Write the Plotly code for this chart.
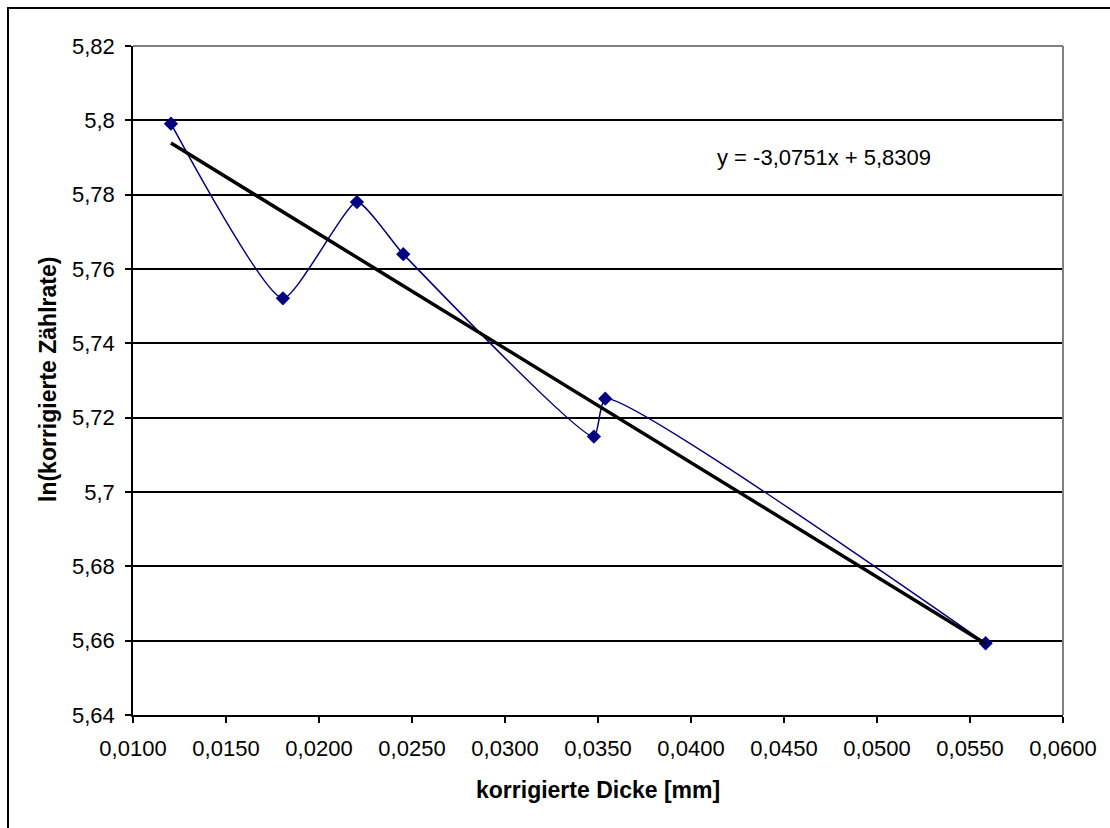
import plotly.graph_objects as go

# Data
dicke = [0.01204, 0.01806, 0.02204, 0.02453, 0.03478, 0.03539, 0.05584]
ln_rate = [5.7991, 5.7521, 5.7780, 5.7640, 5.7149, 5.7251, 5.6593]

# Linear trendline (Excel)
slope = -3.0751
intercept = 5.8309
trend_x = [min(dicke), max(dicke)]
trend_y = [slope * v + intercept for v in trend_x]

x_ticks = [0.010, 0.015, 0.020, 0.025, 0.030, 0.035, 0.040, 0.045, 0.050, 0.055, 0.060]
x_ticktext = ["0,0100", "0,0150", "0,0200", "0,0250", "0,0300", "0,0350",
              "0,0400", "0,0450", "0,0500", "0,0550", "0,0600"]
y_ticks = [5.64, 5.66, 5.68, 5.70, 5.72, 5.74, 5.76, 5.78, 5.80, 5.82]
y_ticktext = ["5,64", "5,66", "5,68", "5,7", "5,72", "5,74", "5,76", "5,78", "5,8", "5,82"]

FONT = "Liberation Sans, Arial, sans-serif"

fig = go.Figure()
fig.add_trace(go.Scatter(
    x=dicke, y=ln_rate, mode="lines+markers",
    line=dict(color="#000080", width=1.5, shape="spline", smoothing=0.5),
    marker=dict(symbol="diamond", size=11, color="#000080"),
    showlegend=False, hoverinfo="x+y"))
fig.add_trace(go.Scatter(
    x=trend_x, y=trend_y, mode="lines",
    line=dict(color="black", width=3.5),
    showlegend=False, hoverinfo="skip"))

W, H = 1110, 828
ml, mr, mt, mb = 133, 47, 46, 113
pw, ph = W - ml - mr, H - mt - mb

def px2paper_x(px):
    return (px - ml) / pw

def px2paper_y(py):
    return 1 - (py - mt) / ph

fig.update_layout(
    width=W, height=H,
    margin=dict(l=ml, r=mr, t=mt, b=mb),
    paper_bgcolor="white", plot_bgcolor="white",
    font=dict(family=FONT, size=22, color="black"),
    xaxis=dict(range=[0.010, 0.060], tickvals=x_ticks, ticktext=x_ticktext,
               showgrid=False, zeroline=False, showline=True, linecolor="black",
               linewidth=1.5, ticks="outside", ticklen=6, tickwidth=1.5,
               tickcolor="black", tickfont=dict(size=22), ticklabelstandoff=7),
    yaxis=dict(range=[5.64, 5.82], tickvals=y_ticks, ticktext=y_ticktext,
               showgrid=True, gridcolor="black", gridwidth=1.5, zeroline=False,
               showline=True, linecolor="black", linewidth=1.5,
               ticks="outside", ticklen=6, tickwidth=1.5, tickcolor="black",
               tickfont=dict(size=22), ticklabelstandoff=6),
    shapes=[
        # gray plot-area border top and right
        dict(type="line", xref="paper", yref="paper", x0=0, x1=1, y0=1, y1=1,
             line=dict(color="#808080", width=2), layer="above"),
        dict(type="line", xref="paper", yref="paper", x0=1, x1=1, y0=0, y1=1,
             line=dict(color="#808080", width=2), layer="above"),
        # outer chart border (left/top visible)
        dict(type="rect", xref="paper", yref="paper",
             x0=px2paper_x(8), x1=px2paper_x(1120),
             y0=px2paper_y(840), y1=px2paper_y(8),
             line=dict(color="black", width=2), fillcolor="rgba(0,0,0,0)",
             layer="above"),
    ],
    annotations=[
        dict(text="<b>korrigierte Dicke [mm]</b>", xref="paper", yref="paper",
             x=px2paper_x(598), y=px2paper_y(790), showarrow=False,
             xanchor="center", yanchor="middle", font=dict(size=23)),
        dict(text="<b>ln(korrigierte Zählrate)</b>", xref="paper", yref="paper",
             x=px2paper_x(48), y=px2paper_y(380), showarrow=False, textangle=-90,
             xanchor="center", yanchor="middle", font=dict(size=23)),
        dict(text="y = -3,0751x + 5,8309", xref="paper", yref="paper",
             x=px2paper_x(824), y=px2paper_y(157), showarrow=False,
             xanchor="center", yanchor="middle", font=dict(size=22)),
    ],
)

fig.write_html("out.html")
